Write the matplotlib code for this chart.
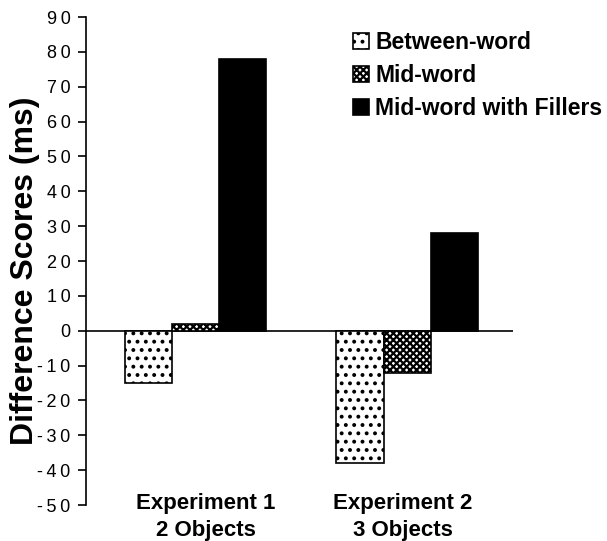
import matplotlib
matplotlib.use("Agg")
import matplotlib.pyplot as plt
import numpy as np

groups = ["Experiment 1\n2 Objects", "Experiment 2\n3 Objects"]
series = ["Between-word", "Mid-word", "Mid-word with Fillers"]
between_word = [-15, -38]
mid_word = [2, -12]
mid_word_fillers = [78, 28]
yticks = list(range(-50, 100, 10))

plt.rcParams['font.family'] = ['Liberation Sans', 'DejaVu Sans']
plt.rcParams['hatch.linewidth'] = 1.6

fig = plt.figure(figsize=(6.07, 5.41), dpi=100)
ax = fig.add_axes([86/607, 1-505/541, (513-86)/607, (505-17)/541])

x = np.arange(len(groups))
w = 0.222
styles = [dict(facecolor='white', hatch='..'),
          dict(facecolor='white', hatch='xxxxx'),
          dict(facecolor='black', hatch=None)]
vals = [between_word, mid_word, mid_word_fillers]
for i, (name, v, st) in enumerate(zip(series, vals, styles)):
    ax.bar(x + (i - 1) * w, v, width=w, edgecolor='black', linewidth=1.2,
           label=name, **st)

ax.axhline(0, color='black', linewidth=1.2, zorder=0.5)
ax.set_xlim(-0.515, 1.5)
ax.set_ylim(-50, 90)
ax.set_yticks(yticks)
ax.set_yticklabels(["\u2009".join(str(t)) for t in yticks], fontsize=13)
ax.tick_params(axis='y', direction='out', length=6, width=1.2, pad=5)
ax.set_xticks(x + np.array([0.05, -0.02]))
ax.set_xticklabels(groups, fontsize=16, fontweight='bold', linespacing=1.38)
ax.tick_params(axis='x', length=0, pad=-8.5)
for s in ['top', 'right', 'bottom']:
    ax.spines[s].set_visible(False)
ax.spines['left'].set_linewidth(1.2)
ax.set_ylabel("Difference Scores (ms)", fontsize=23, fontweight='bold')
ax.yaxis.set_label_coords(-0.108, 0.48)

leg = ax.legend(loc='upper left', bbox_to_anchor=(353/607, 1-31/541),
                bbox_transform=fig.transFigure, frameon=False,
                handlelength=0.68, handleheight=0.68, handletextpad=0.28,
                labelspacing=0.43, borderaxespad=0, borderpad=0,
                prop=dict(size=16.5, weight='bold'))

fig.savefig("out.png", dpi=100)
